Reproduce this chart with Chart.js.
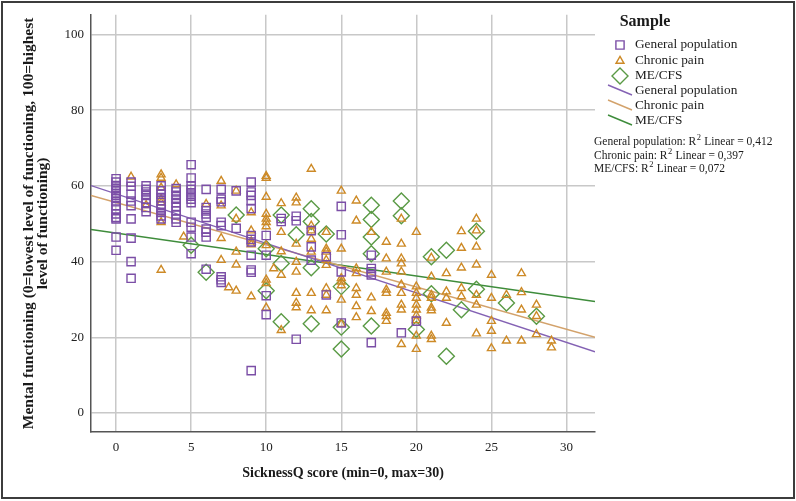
<!DOCTYPE html>
<html>
<head>
<meta charset="utf-8">
<script src="https://cdn.jsdelivr.net/npm/chart.js@4"></script>
<style>
  html, body { margin: 0; padding: 0; background: #fff; }
  #wrap { width: 796px; height: 501px; position: relative; }
</style>
</head>
<body>
<div id="wrap"><canvas id="chart"></canvas></div>
<script>
// SicknessQ score vs mental functioning, three samples + linear fits

const xTicks = [0, 5, 10, 15, 20, 25, 30];
const yTicks = [0, 20, 40, 60, 80, 100];

// [SicknessQ score, mental functioning]
const generalPop = [
  [0,61.9],[0,61.0],[0,60.1],[0,59.3],[0,58.4],[0,57.5],[0,56.7],[0,55.8],[0,54.8],[0,53.9],[0,52.6],[0,51.7],[0,51.3],[0,46.5],[0,43.0],
  [1,61.0],[1,59.9],[1,57.8],[1,56.0],[1,54.8],[1,51.3],[1,46.2],[1,40.0],[1,35.6],
  [2,60.0],[2,59.1],[2,58.4],[2,57.5],[2,56.5],[2,55.6],[2,54.3],[2,53.2],
  [3,60.0],[3,58.7],[3,57.8],[3,56.9],[3,56.1],[3,54.8],[3,53.9],[3,53.0],[3,52.1],[3,51.3],
  [4,59.3],[4,58.4],[4,57.5],[4,56.5],[4,55.6],[4,54.6],[4,53.4],[4,52.3],[4,51.3],[4,50.4],
  [5,65.6],[5,62.1],[5,60.0],[5,59.1],[5,58.2],[5,57.3],[5,56.5],[5,55.6],[5,50.4],[5,49.1],[5,46.5],[5,42.1],
  [6,59.1],[6,54.3],[6,53.4],[6,52.6],[6,51.7],[6,48.6],[6,47.8],[6,46.5],[6,38.0],
  [7,59.1],[7,56.5],[7,55.8],[7,50.4],[7,49.5],[7,36.0],[7,35.2],[7,34.5],
  [8,58.7],[8,48.8],
  [9,61.0],[9,58.4],[9,57.5],[9,56.1],[9,54.0],[9,46.9],[9,45.9],[9,45.2],[9,41.7],[9,37.8],[9,37.2],[9,11.2],
  [10,46.9],[10,41.7],[10,31.0],[10,26.0],
  [11,51.4],[11,50.6],
  [12,52.0],[12,50.8],[12,19.5],
  [13,48.2],[13,43.9],[13,40.4],
  [14,41.3],[14,31.2],
  [15,54.6],[15,47.1],[15,37.3],[15,23.8],
  [17,41.7],[17,38.2],[17,37.3],[17,36.5],[17,18.6],
  [19,21.2],
  [20,24.3]
];

const chronicPain = [
  [1,62.4],[2,54.9],
  [3,63.0],[3,62.1],[3,59.5],[3,56.5],[3,55.6],[3,50.4],[3,37.8],
  [4,60.4],[4.5,46.6],[6,55.2],
  [7,61.3],[7,54.8],[7,46.2],[7,40.4],[7.5,33.2],
  [8,58.7],[8,51.3],[8,42.6],[8,39.2],[8,32.3],
  [9,53.0],[9,48.2],[9,45.3],[9,44.5],[9,30.8],
  [10,62.6],[10,62.1],[10,57.1],[10,52.6],[10,51.3],[10,50.4],[10,49.3],[10,44.3],[10,35.2],[10,34.3],[10,27.8],[10.5,38.2],
  [11,55.4],[11,47.8],[11,42.7],[11,36.5],[11,21.9],
  [12,56.9],[12,55.6],[12,44.7],[12,39.9],[12,37.3],[12,31.7],[12,29.1],[12,27.9],
  [13,64.5],[13,49.5],[13,48.2],[13,46.0],[13,42.6],[13,31.7],[13,27.1],
  [14,47.8],[14,43.4],[14,42.6],[14,40.4],[14,39.1],[14,33.0],[14,31.2],[14,27.1],
  [15,58.7],[15,43.4],[15,35.6],[15,34.7],[15,33.7],[15,29.9],[15,23.5],
  [16,56.1],[16,50.8],[16,38.2],[16,36.9],[16,33.0],[16,31.2],[16,28.2],[16,25.3],
  [17,47.8],[17,30.5],[17,26.9],
  [18,45.2],[18,40.8],[18,37.3],[18,32.6],[18,31.7],[18,26.4],[18,25.6],[18,24.3],
  [19,51.3],[19,44.7],[19,40.8],[19,39.5],[19,37.3],[19,33.9],[19,31.7],[19,28.6],[19,27.3],[19,18.2],
  [20,47.8],[20,33.4],[20,31.7],[20,30.4],[20,28.6],[20,27.3],[20,25.8],[20,24.5],[20,20.4],[20,16.9],
  [21,41.0],[21,36.0],[21,31.2],[21,30.4],[21,27.8],[21,27.1],[21,20.4],[21,19.5],
  [22,36.9],[22,32.1],[22,30.4],[22,23.8],
  [23,48.0],[23,43.6],[23,38.4],[23,33.0],[23,30.8],
  [24,51.3],[24,48.2],[24,43.9],[24,39.2],[24,31.2],[24,28.6],[24,21.0],
  [25,36.5],[25,30.4],[25,24.3],[25,21.7],[25,17.1],
  [26,31.2],[26,19.1],
  [27,36.9],[27,31.9],[27,27.3],[27,19.1],
  [28,28.6],[28,25.6],[28,20.8],
  [29,19.1],[29,17.3]
];

const meCfs = [
  [5,44.3],[6,37.2],[8,52.3],[10,43.4],[10,32.3],[11,52.3],[11,39.5],[11,24.1],[12,47.1],
  [13,54.0],[13,50.6],[13,38.4],[13,23.6],[14,47.3],[15,33.4],[15,22.7],[15,16.9],
  [17,54.9],[17,51.1],[17,46.5],[17,42.1],[17,23.0],[19,56.0],[19,52.1],[20,22.1],
  [21,41.3],[21,31.5],[22,43.0],[22,15.0],[23,27.3],[24,48.0],[24,32.7],[26,29.1],[28,25.6]
];

// linear fit lines: [intercept, slope]
const fitGeneral = [57.9, -1.307];
const fitPain = [55.6, -1.115];
const fitMe = [47.55, -0.567];
const rSquared = ['0,412', '0,397', '0,072'];

const groupNames = ['General population', 'Chronic pain', 'ME/CFS'];
const markColors = ['#7b4ea6', '#cd8a27', '#5a9a45'];
const lineColors = ['#8462b4', '#d3a26b', '#3e8c3b'];

const X_MIN = -1.67, X_MAX = 31.9;
const Y_MIN = -5, Y_MAX = 105.2;
const SERIF = '"Liberation Serif", "DejaVu Serif", serif';

function toPts(arr) {
  return arr.map(p => ({ x: p[0], y: p[1] }));
}
function fitPts(f) {
  return [{ x: X_MIN, y: f[0] + f[1] * X_MIN }, { x: X_MAX, y: f[0] + f[1] * X_MAX }];
}

const pointStyles = [
  { pointStyle: 'rect', radius: 5.8, rotation: 0 },
  { pointStyle: 'triangle', radius: 4.6, rotation: 0 },
  { pointStyle: 'rectRot', radius: 8, rotation: 0 }
];

// SPSS-like legend on the right and the outer frame
const legendPlugin = {
  id: 'spssLegend',
  afterDraw(chart) {
    const ctx = chart.ctx;
    ctx.save();
    ctx.fillStyle = '#1a1a1a';
    ctx.textBaseline = 'middle';
    ctx.textAlign = 'center';
    ctx.font = 'bold 16px ' + SERIF;
    ctx.fillText('Sample', 645, 22);

    ctx.textAlign = 'left';
    const rowY = [45, 61, 76, 91, 106, 121];
    for (let i = 0; i < 3; i++) {
      const ps = pointStyles[i];
      ctx.strokeStyle = markColors[i];
      ctx.fillStyle = 'rgba(0,0,0,0)';
      ctx.lineWidth = 1.4;
      Chart.helpers.drawPoint(ctx, { pointStyle: ps.pointStyle, radius: ps.radius, rotation: ps.rotation, borderWidth: 1.4 }, 620, rowY[i]);
      ctx.fillStyle = '#1a1a1a';
      ctx.font = '13.3px ' + SERIF;
      ctx.fillText(groupNames[i], 635, rowY[i]);
    }
    for (let i = 0; i < 3; i++) {
      const y = rowY[i + 3];
      ctx.strokeStyle = lineColors[i];
      ctx.lineWidth = 1.4;
      ctx.beginPath();
      ctx.moveTo(608, y - 6);
      ctx.lineTo(632, y + 4);
      ctx.stroke();
      ctx.fillText(groupNames[i], 635, y);
    }

    // R² lines
    const r2Y = [142, 156, 169];
    for (let i = 0; i < 3; i++) {
      let x = 594;
      const y = r2Y[i];
      ctx.font = '11.5px ' + SERIF;
      const a = groupNames[i] + ': R';
      ctx.fillText(a, x, y);
      x += ctx.measureText(a).width;
      ctx.font = '8.5px ' + SERIF;
      ctx.fillText('2', x + 0.5, y - 4);
      x += ctx.measureText('2').width + 1;
      ctx.font = '11.5px ' + SERIF;
      ctx.fillText(' Linear = ' + rSquared[i], x, y);
    }

    ctx.strokeStyle = '#3c3c3c';
    ctx.lineWidth = 2;
    ctx.strokeRect(2, 2, 792, 496);
    ctx.restore();
  }
};

const datasets = [
  { data: toPts(generalPop), ...pointStyles[0], idx: 0 },
  { data: toPts(chronicPain), ...pointStyles[1], idx: 1 },
  { data: toPts(meCfs), ...pointStyles[2], idx: 2 }
].map(d => ({
  type: 'scatter',
  label: groupNames[d.idx],
  data: d.data,
  pointStyle: d.pointStyle,
  pointRadius: d.radius,
  pointRotation: d.rotation,
  pointBorderWidth: 1.4,
  pointBorderColor: markColors[d.idx],
  pointBackgroundColor: 'rgba(0,0,0,0)',
  borderColor: markColors[d.idx]
}));

[fitGeneral, fitPain, fitMe].forEach((f, i) => {
  datasets.push({
    type: 'line',
    label: groupNames[i] + ' fit',
    data: fitPts(f),
    borderColor: lineColors[i],
    borderWidth: 1.4,
    pointRadius: 0,
    fill: false
  });
});

new Chart(document.getElementById('chart'), {
  type: 'scatter',
  data: { datasets },
  options: {
    responsive: true,
    maintainAspectRatio: false,
    devicePixelRatio: 1,
    animation: false,
    layout: { padding: { left: 0, top: 10, right: 201, bottom: 0 } },
    plugins: { legend: { display: false }, tooltip: { enabled: false } },
    scales: {
      x: {
        type: 'linear',
        min: X_MIN,
        max: X_MAX,
        afterBuildTicks: s => { s.ticks = xTicks.map(v => ({ value: v })); },
        afterFit: s => { s.height = 69; },
        grid: { color: '#c8c8c8', lineWidth: 1.5, drawTicks: false },
        border: { display: true, color: '#555', width: 1.5 },
        ticks: { padding: 8, color: '#222', font: { family: SERIF, size: 13 } },
        title: {
          display: true,
          text: 'SicknessQ score (min=0, max=30)',
          color: '#1a1a1a',
          font: { family: SERIF, size: 14, weight: 'bold', lineHeight: 1 },
          padding: { top: 0, bottom: 21 }
        }
      },
      y: {
        type: 'linear',
        min: Y_MIN,
        max: Y_MAX,
        afterBuildTicks: s => { s.ticks = yTicks.map(v => ({ value: v })); },
        afterFit: s => { s.width = 91; },
        grid: { color: '#c8c8c8', lineWidth: 1.5, drawTicks: false },
        border: { display: true, color: '#555', width: 1.5 },
        ticks: { padding: 7, color: '#222', font: { family: SERIF, size: 13 } },
        title: {
          display: true,
          text: ['Mental functioning (0=lowest level of functioning, 100=highest', 'level of functioning)'],
          color: '#1a1a1a',
          font: { family: SERIF, size: 15.5, weight: 'bold', lineHeight: 0.92 },
          padding: { top: 21.5, bottom: 0 }
        }
      }
    }
  },
  plugins: [legendPlugin]
});
</script>
</body>
</html>
